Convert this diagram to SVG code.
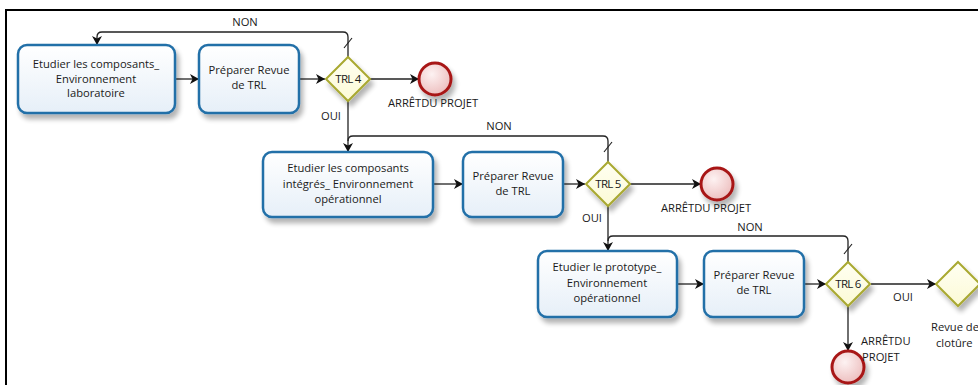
<svg xmlns="http://www.w3.org/2000/svg" width="978" height="385" viewBox="0 0 978 385">
  <defs>
    <linearGradient id="taskFill" x1="0" y1="0" x2="0" y2="1">
      <stop offset="0" stop-color="#ffffff"/>
      <stop offset="1" stop-color="#e6eff8"/>
    </linearGradient>
    <linearGradient id="gateFill" x1="0" y1="0" x2="0" y2="1">
      <stop offset="0" stop-color="#fffff2"/>
      <stop offset="1" stop-color="#fcfad6"/>
    </linearGradient>
    <radialGradient id="endFill" cx="0.4" cy="0.35" r="0.7">
      <stop offset="0" stop-color="#fdf2f2"/>
      <stop offset="1" stop-color="#ecbcbc"/>
    </radialGradient>
    <filter id="shadow" x="-20%" y="-20%" width="150%" height="160%">
      <feGaussianBlur in="SourceAlpha" stdDeviation="2.5"/>
      <feOffset dx="3" dy="5" result="b"/>
      <feComponentTransfer><feFuncA type="linear" slope="0.3"/></feComponentTransfer>
      <feMerge><feMergeNode/><feMergeNode in="SourceGraphic"/></feMerge>
    </filter>
    <marker id="arrow" markerUnits="userSpaceOnUse" markerWidth="11" markerHeight="11" refX="9" refY="5" orient="auto">
      <path d="M0,0 L9,5 L0,10 L2.5,5 Z" fill="#111"/>
    </marker>
  </defs>
  <style>
    .task { fill: url(#taskFill); stroke: #2470a8; stroke-width: 2.5; filter: url(#shadow); }
    .gate { fill: url(#gateFill); stroke: #a9a930; stroke-width: 2; filter: url(#shadow); }
    .end { fill: url(#endFill); stroke: #a81818; stroke-width: 3; filter: url(#shadow); }
    .flow { fill: none; stroke: #222; stroke-width: 1.3; }
    .arr { marker-end: url(#arrow); }
    .tick { stroke: #222; stroke-width: 1.2; }
    text { font-family: "Open Sans", "Liberation Sans", sans-serif; font-size: 11.2px; fill: #1a1a1a; }
    .c { text-anchor: middle; }
    .g { font-size: 11.5px; letter-spacing: -0.7px; }
  </style>

  <!-- page frame -->
  <rect x="6" y="10" width="990" height="390" fill="#ffffff" stroke="#000" stroke-width="2"/>

  <!-- connectors -->
  <g id="connectors">
    <path class="flow arr" d="M175,79 H199"/>
    <path class="flow arr" d="M299,79 H325"/>
    <path class="flow arr" d="M370,79 H419"/>
    <path class="flow arr" d="M348,57 V37 Q348,32 343,32 H102 Q97,32 97,37 V45"/>
    <line class="tick" x1="344" y1="48" x2="352" y2="38"/>
    <path class="flow arr" d="M348,101 V152"/>

    <path class="flow arr" d="M433,184 H463"/>
    <path class="flow arr" d="M563,184 H585"/>
    <path class="flow arr" d="M630,184 H701"/>
    <path class="flow" d="M608,162 V141 Q608,136 603,136 H353 Q348,136 348,141"/>
    <line class="tick" x1="604" y1="152" x2="612" y2="142"/>
    <path class="flow arr" d="M608,206 V251"/>

    <path class="flow arr" d="M677,284 H704"/>
    <path class="flow arr" d="M804,284 H826"/>
    <path class="flow arr" d="M871,284 H936"/>
    <path class="flow" d="M848,262 V241 Q848,236 843,236 H613 Q608,236 608,241"/>
    <line class="tick" x1="844" y1="254" x2="852" y2="244"/>
    <path class="flow arr" d="M848,306 V351"/>

    <text class="c" x="245" y="26">NON</text>
    <text class="c" x="331" y="120">OUI</text>
    <text class="c" x="499" y="130">NON</text>
    <text class="c" x="592" y="222">OUI</text>
    <text class="c" x="750" y="231">NON</text>
    <text class="c" x="903" y="301">OUI</text>
  </g>

  <!-- row 1 -->
  <g id="task-composants-labo">
    <rect class="task" x="18" y="45" width="157" height="68" rx="9"/>
    <text class="c" x="96" y="68">Etudier les composants_</text>
    <text class="c" x="96" y="83">Environnement</text>
    <text class="c" x="96" y="97">laboratoire</text>
  </g>
  <g id="task-revue-1">
    <rect class="task" x="199" y="45" width="100" height="68" rx="9"/>
    <text class="c" x="249" y="74">Préparer Revue</text>
    <text class="c" x="249" y="89">de TRL</text>
  </g>
  <g id="gate-trl4">
    <path class="gate" d="M348,57 L370,79 L348,101 L326,79 Z"/>
    <text class="c g" x="348" y="83">TRL 4</text>
  </g>
  <g id="end-1">
    <circle class="end" cx="435" cy="79" r="16"/>
    <text class="c" x="433" y="107">ARRÊTDU PROJET</text>
  </g>

  <!-- row 2 -->
  <g id="task-composants-integres">
    <rect class="task" x="263" y="152" width="170" height="65" rx="9"/>
    <text class="c" x="348" y="172">Etudier les composants</text>
    <text class="c" x="348" y="188">intégrés_ Environnement</text>
    <text class="c" x="348" y="203">opérationnel</text>
  </g>
  <g id="task-revue-2">
    <rect class="task" x="463" y="152" width="100" height="65" rx="9"/>
    <text class="c" x="513" y="180">Préparer Revue</text>
    <text class="c" x="513" y="195">de TRL</text>
  </g>
  <g id="gate-trl5">
    <path class="gate" d="M608,162 L630,184 L608,206 L586,184 Z"/>
    <text class="c g" x="608" y="188">TRL 5</text>
  </g>
  <g id="end-2">
    <circle class="end" cx="717" cy="184" r="16"/>
    <text class="c" x="706" y="212">ARRÊTDU PROJET</text>
  </g>

  <!-- row 3 -->
  <g id="task-prototype">
    <rect class="task" x="538" y="251" width="139" height="66" rx="9"/>
    <text class="c" x="607" y="271">Etudier le prototype_</text>
    <text class="c" x="607" y="287">Environnement</text>
    <text class="c" x="607" y="302">opérationnel</text>
  </g>
  <g id="task-revue-3">
    <rect class="task" x="704" y="251" width="100" height="66" rx="9"/>
    <text class="c" x="754" y="279">Préparer Revue</text>
    <text class="c" x="754" y="294">de TRL</text>
  </g>
  <g id="gate-trl6">
    <path class="gate" d="M848,262 L870,284 L848,306 L826,284 Z"/>
    <text class="c g" x="848" y="288">TRL 6</text>
  </g>
  <g id="end-3">
    <circle class="end" cx="848" cy="367" r="16"/>
    <text x="861" y="345">ARRÊTDU</text>
    <text x="862" y="361">PROJET</text>
  </g>
  <g id="gate-revue-cloture">
    <path class="gate" d="M958,262 L980,284 L958,306 L936,284 Z"/>
    <text x="931" y="331">Revue de</text>
    <text x="936" y="347">clotûre</text>
  </g>
</svg>
